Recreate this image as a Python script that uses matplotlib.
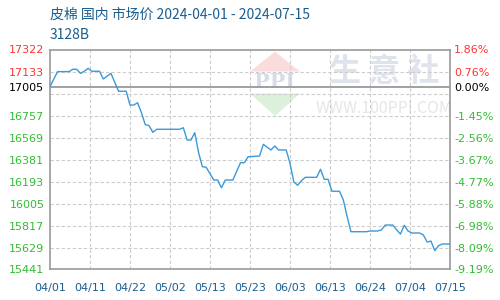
import numpy as np
import matplotlib.pyplot as plt
from matplotlib.patches import Polygon
from datetime import date

plt.rcParams['font.family'] = ['Noto Sans CJK SC', 'DejaVu Sans']

# ---- data ----
dates = ["04-01", "04-03", "04-06", "04-07", "04-08", "04-09", "04-10", "04-11",
         "04-12", "04-14", "04-15", "04-17", "04-19", "04-21", "04-22", "04-23",
         "04-24", "04-25", "04-26", "04-27", "04-28", "04-29", "05-05", "05-06",
         "05-07", "05-08", "05-09", "05-10", "05-11", "05-12", "05-14", "05-15",
         "05-16", "05-17", "05-19", "05-21", "05-22", "05-23", "05-26", "05-27",
         "05-29", "05-30", "05-31", "06-02", "06-03", "06-04", "06-05", "06-06",
         "06-07", "06-10", "06-11", "06-12", "06-13", "06-14", "06-16", "06-17",
         "06-18", "06-19", "06-23", "06-24", "06-26", "06-27", "06-28", "06-30",
         "07-01", "07-02", "07-03", "07-04", "07-05", "07-07", "07-08", "07-09",
         "07-10", "07-11", "07-12", "07-13", "07-15"]
prices = [17005, 17133, 17133, 17153, 17153, 17118, 17136, 17161,
          17136, 17136, 17070, 17118, 16965, 16965, 16847, 16847,
          16867, 16782, 16680, 16671, 16614, 16640, 16640, 16653,
          16548, 16548, 16611, 16440, 16320, 16315, 16206, 16206,
          16140, 16206, 16206, 16354, 16354, 16405, 16411, 16511,
          16463, 16497, 16463, 16463, 16349, 16190, 16161, 16200,
          16229, 16229, 16298, 16212, 16212, 16110, 16110, 16035,
          15893, 15764, 15764, 15770, 15770, 15779, 15821, 15821,
          15779, 15744, 15819, 15770, 15753, 15753, 15736, 15676,
          15684, 15602, 15645, 15659, 15659]

base_price = 17005
y_ticks = [15441, 15629, 15817, 16005, 16193, 16381, 16569, 16757, 16945, 17133, 17322]
left_labels = ["15441", "15629", "15817", "16005", "16193", "16381", "16569", "16757", "", "17133", "17322"]
right_labels = ["-9.19%", "-8.09%", "-6.98%", "-5.88%", "-4.77%", "-3.67%", "-2.56%", "-1.45%", "", "0.76%", "1.86%"]
x_tick_labels = ["04/01", "04/11", "04/22", "05/02", "05/13", "05/23",
                 "06/03", "06/13", "06/24", "07/04", "07/15"]

title = "皮棉 国内 市场价 2024-04-01 - 2024-07-15"
subtitle = "3128B"

RED = "#ff3333"
GREEN = "#33bb33"
BLUE_TXT = "#1a5d8f"
LINE = "#3a9ad9"
SPINE = "#999999"

start = date(2024, 4, 1)
days = [(date(2024, int(d[:2]), int(d[3:])) - start).days for d in dates]
n_days = (date(2024, 7, 15) - start).days

fig = plt.figure(figsize=(5, 3), dpi=100)
ax = fig.add_axes([0.1, 0.1017, 0.8, 0.7333])

ax.set_xlim(0, n_days)
ax.set_ylim(y_ticks[0], y_ticks[-1])

# watermark (axes coordinates)
ax.add_patch(Polygon([[0.5625, 0.99], [0.5, 0.9], [0.625, 0.9]], closed=True,
                     transform=ax.transAxes, facecolor="#fbdcdc", edgecolor="none", zorder=0))
ax.add_patch(Polygon([[0.5, 0.8], [0.625, 0.8], [0.5625, 0.698]], closed=True,
                     transform=ax.transAxes, facecolor="#dcf0dc", edgecolor="none", zorder=0))
ax.text(0.5625, 0.852, "PPI", transform=ax.transAxes, ha="center", va="center",
        fontsize=15, color="#d6dcea", family="DejaVu Serif", fontweight="bold", zorder=0)
ax.text(0.835, 0.898, "生 意 社", transform=ax.transAxes, ha="center", va="center",
        fontsize=23, color="#dfe3ec", fontweight="bold", zorder=0)
ax.text(0.835, 0.734, "WWW.100PPI.COM", transform=ax.transAxes, ha="center", va="center",
        fontsize=11.5, color="#e6e6e6", zorder=0)

# grid
for yv in y_ticks[1:-1]:
    ax.axhline(yv, color="#cccccc", linestyle=(0, (3, 2)), linewidth=0.8, zorder=1)
x_pos = np.linspace(0, n_days, len(x_tick_labels))
for xv in x_pos[1:-1]:
    ax.axvline(xv, color="#cccccc", linestyle=(0, (3, 2)), linewidth=0.8, zorder=1)

ax.axhline(base_price, color=SPINE, linewidth=1.3, zorder=2)

ax.plot(days, prices, color=LINE, linewidth=1.0, zorder=3)

for s in ax.spines.values():
    s.set_color(SPINE)
    s.set_linewidth(1.2)

# left ticks
ax.set_yticks(y_ticks + [base_price])
ax.set_yticklabels(left_labels + [str(base_price)], fontsize=8, family="DejaVu Sans")
for lbl, v in zip(ax.get_yticklabels(), y_ticks + [base_price]):
    lbl.set_color(RED if v > base_price else (GREEN if v < base_price else "black"))
ax.tick_params(axis="y", length=0, pad=4)

# right ticks
ax2 = ax.twinx()
ax2.set_ylim(ax.get_ylim())
ax2.set_yticks(y_ticks + [base_price])
ax2.set_yticklabels(right_labels + ["0.00%"], fontsize=8, family="DejaVu Sans")
for lbl, v in zip(ax2.get_yticklabels(), y_ticks + [base_price]):
    lbl.set_color(RED if v > base_price else (GREEN if v < base_price else "black"))
ax2.tick_params(axis="y", length=0, pad=3)
for s in ax2.spines.values():
    s.set_visible(False)

ax.set_xticks(x_pos)
ax.set_xticklabels(x_tick_labels, fontsize=8, color=BLUE_TXT, family="DejaVu Sans")
ax.tick_params(axis="x", length=0, pad=10)

fig.text(0.1, 0.95, title, fontsize=10, color=BLUE_TXT, va="center", ha="left")
fig.text(0.1, 0.883, subtitle, fontsize=10, color=BLUE_TXT, va="center", ha="left")

fig.savefig("out.png", dpi=100)
